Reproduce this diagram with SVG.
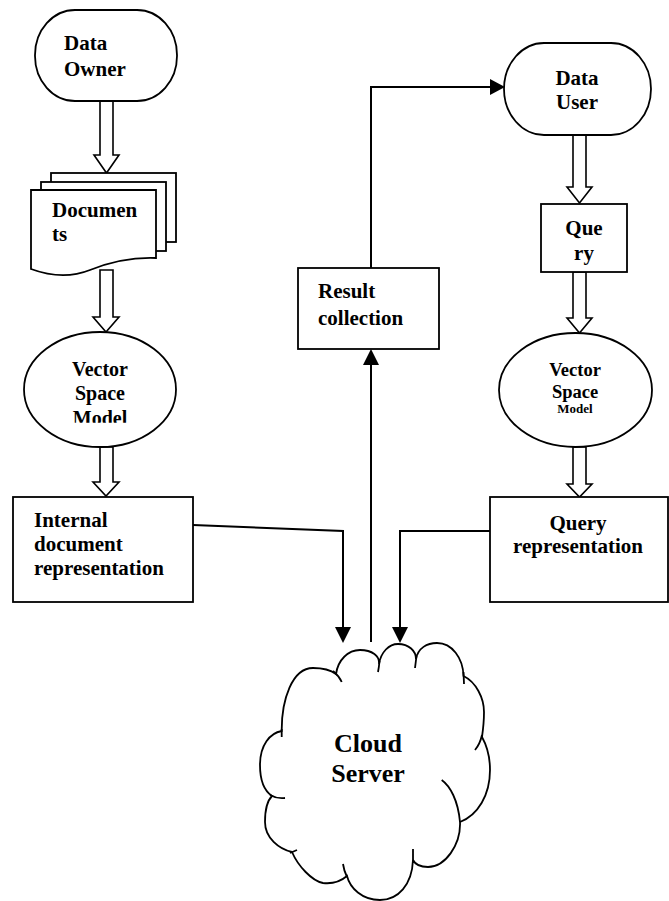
<svg xmlns="http://www.w3.org/2000/svg" width="669" height="901" viewBox="0 0 669 901">
  <style>
    .shape { fill: #fff; stroke: #000; stroke-width: 1.8; }
    .block { fill: #fff; stroke: #000; stroke-width: 1.6; stroke-linejoin: miter; }
    .wire { fill: none; stroke: #000; stroke-width: 2; }
    .head { fill: #000; stroke: none; }
    .inner { fill: none; stroke: #000; stroke-width: 1.8; }
    text { font-family: "Liberation Serif", "Times New Roman", serif; font-weight: bold; font-size: 21px; fill: #000; }
    .mid { text-anchor: middle; }
    .s20 { font-size: 20px; }
    .s18 { font-size: 18.5px; }
    .s13 { font-size: 13px; }
    .s26 { font-size: 26px; }
  </style>
  <defs>
    <clipPath id="vsmLeftClip">
      <rect x="0" y="320" width="220" height="102.7"/>
    </clipPath>
  </defs>

  <rect width="669" height="901" fill="#fff"/>

  <!-- hollow block arrows between stacked steps -->
  <g id="block-arrows">
    <path class="block" d="M100,101 V155 H94 L106.5,173 L119,155 H113 V101 Z"/>
    <path class="block" d="M100,270 V317 H93 L106,332 L119,317 H113 V270 Z"/>
    <path class="block" d="M100,447 V482 H93 L106,496 L119,482 H113 V447 Z"/>
    <path class="block" d="M573,135 V187 H567 L579.5,203 L592,187 H586 V135 Z"/>
    <path class="block" d="M573,272 V318 H567 L579.5,333 L592,318 H586 V272 Z"/>
    <path class="block" d="M573,447 V484 H567 L579.5,497 L592,484 H586 V447 Z"/>
  </g>

  <!-- line connectors -->
  <g id="connectors">
    <path class="wire" d="M193,525 L343,531 V628"/>
    <polygon class="head" points="335,627 351,627 343,643"/>
    <path class="wire" d="M490,531 H400 V628"/>
    <polygon class="head" points="392,627 408,627 400,643"/>
    <path class="wire" d="M371,642 V364"/>
    <polygon class="head" points="363,365 379,365 371,349"/>
    <path class="wire" d="M371,268 V87 H491"/>
    <polygon class="head" points="490,79 490,95 505,87"/>
  </g>

  <g id="data-owner">
    <rect class="shape" x="35" y="10" width="142" height="91" rx="40" ry="45"/>
    <text x="64" y="50">Data</text>
    <text x="64" y="76">Owner</text>
  </g>

  <g id="documents">
    <rect class="shape" x="51" y="173" width="125" height="69"/>
    <rect class="shape" x="41" y="182" width="125" height="69"/>
    <path class="shape" d="M31,190 H156 V258 C130,257 110,262 90,270 C70,278 50,276 31,269 Z"/>
    <text x="52" y="217">Documen</text>
    <text x="52" y="241">ts</text>
  </g>

  <g id="vsm-left">
    <ellipse class="shape" cx="100" cy="389.5" rx="76" ry="57.5"/>
    <text class="mid s20" x="100" y="376">Vector</text>
    <text class="mid s20" x="100" y="400">Space</text>
    <text class="mid s20" x="100" y="425" clip-path="url(#vsmLeftClip)">Model</text>
  </g>

  <g id="internal-doc">
    <rect class="shape" x="13" y="497" width="180" height="105"/>
    <text x="34" y="527">Internal</text>
    <text x="34" y="551">document</text>
    <text x="34" y="575">representation</text>
  </g>

  <g id="result-collection">
    <rect class="shape" x="298" y="268" width="141" height="81"/>
    <text x="318" y="298">Result</text>
    <text x="318" y="325">collection</text>
  </g>

  <g id="data-user">
    <rect class="shape" x="504" y="43" width="147" height="92" rx="40" ry="46"/>
    <text class="mid" x="577" y="85">Data</text>
    <text class="mid" x="577" y="109">User</text>
  </g>

  <g id="query">
    <rect class="shape" x="541" y="204" width="86" height="68"/>
    <text class="mid" x="584" y="235">Que</text>
    <text class="mid" x="584" y="260">ry</text>
  </g>

  <g id="vsm-right">
    <ellipse class="shape" cx="575.5" cy="390" rx="76.5" ry="57"/>
    <text class="mid s18" x="575" y="376">Vector</text>
    <text class="mid s18" x="575" y="398">Space</text>
    <text class="mid s13" x="575" y="413">Model</text>
  </g>

  <g id="query-representation">
    <rect class="shape" x="490" y="497" width="178" height="105"/>
    <text class="mid" x="578" y="530">Query</text>
    <text class="mid" x="578" y="553">representation</text>
  </g>

  <g id="cloud-server">
    <path class="shape" d="M281.7,731
      C281.5,700 292,668 313,668 C324,668 332,671 336,674
      C338,660 348,650 360,650 C372,650 380,656 379,664
      C381,652 389,644 398,644 C409,644 416,651 416,659
      C418,648 427,643 437,643 C452,643 463,658 463.5,676
      C476,682 484,698 484,712 C484,722 483,730 482,737
      C487,746 490,757 490,770 C490,795 478,815 460,822
      C461,845 445,867 428,867 C420,867 415,864 413,860
      C412,885 398,900 380,900 C362,900 350,888 347,876
      C340,882 332,884 323,883 C312,881 298,866 292,852
      C279,849 265,838 265,822 C265,810 268,800 272,796
      C263,790 260,778 260,765 C260,745 270,733 281.7,731 Z"/>
    <path class="inner" d="M333,671 Q339,676 341.7,682
      M379.5,661 Q379,667 378,672
      M416.5,656 L415,668
      M463.5,672 L464,684
      M482,735 Q480,744 475,750
      M441.7,780 C450,786 458,800 460,822
      M413,863 L413,849
      M347,877 Q344,871 343,864
      M290,853 L297,850
      M270,795 Q277,799 285,798
      M281.7,729 L281.7,737"/>
    <text class="mid s26" x="368" y="752">Cloud</text>
    <text class="mid s26" x="368" y="782">Server</text>
  </g>
</svg>
